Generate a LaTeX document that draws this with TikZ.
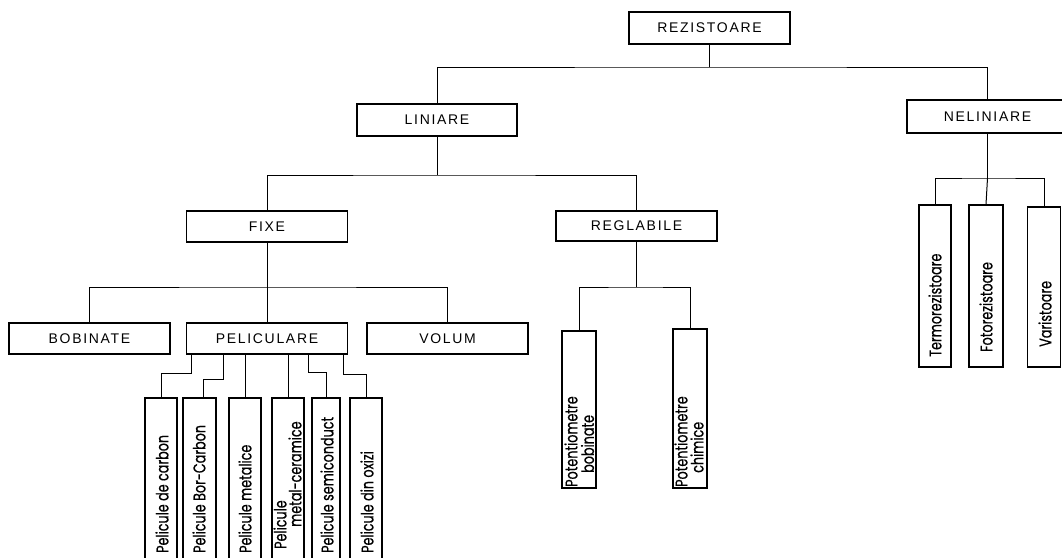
\documentclass[tikz,border=0pt]{standalone}
\usepackage{fontspec}
\setmainfont{Liberation Sans}
\newfontfamily\capsf[LetterSpace=12]{Liberation Sans}
\newfontfamily\rotf[FakeStretch=0.75,FakeBold=0.6]{Poppins}
\begin{document}
\begin{tikzpicture}[x=1pt,y=-1pt,
  box/.style={draw, line width=1.5pt, inner sep=0pt, minimum width=161pt, minimum height=31pt,
              font=\capsf\fontsize{14}{16}\selectfont},
  tall/.style={draw, line width=1.5pt, inner sep=0pt},
  lbl/.style={rotate=90, anchor=west, inner sep=0pt, font=\rotf\fontsize{17}{19}\selectfont},
  wire/.style={line width=1pt}]
\clip (0,0) rectangle (1062,557);
\fill[white] (0,0) rectangle (1062,557);
% level 0
\node[box, minimum height=32pt] (rez) at (709.5,28) {REZISTOARE};
% level 1
\node[box, minimum height=32pt, minimum width=160pt] (lin) at (437,120) {LINIARE};
\node[box, minimum height=33pt] (nel) at (987.5,116.5) {NELINIARE};
% level 2
\node[box] (fix) at (267,226.5) {FIXE};
\node[box, minimum height=30pt] (reg) at (636.5,226) {REGLABILE};
% level 3
\node[box] (bob) at (89.5,338.5) {BOBINATE};
\node[box] (pel) at (267,338.5) {PELICULARE};
\node[box] (vol) at (447.5,338.5) {VOLUM};
% potentiometre
\node[tall, minimum width=34pt, minimum height=157pt] (pb) at (579,409.5) {};
\node[tall, minimum width=34pt, minimum height=159pt] (pc) at (690,408.5) {};
\node[lbl] (pbt1) at (571,487) {Potentiometre};
\node[lbl] (pbt2) at (587.5,473) {bobinate};
\node[lbl] (pct1) at (681,487) {Potentiometre};
\node[lbl] (pct2) at (697,473) {chimice};
% neliniare children
\node[tall, minimum width=32pt, minimum height=162pt] (ter) at (935,286) {};
\node[tall, minimum width=34pt, minimum height=162pt] (fot) at (986,286) {};
\node[tall, minimum width=33pt, minimum height=160pt] (var) at (1044,287) {};
\node[lbl] (tert) at (935,357) {Termorezistoare};
\node[lbl] (fott) at (986,352) {Fotorezistoare};
\node[lbl] (vart) at (1045,347) {Varistoare};
% pelicule
\node[tall, minimum width=32pt, minimum height=172pt] (p1) at (161,484) {};
\node[tall, minimum width=33pt, minimum height=172pt] (p2) at (199.5,484) {};
\node[tall, minimum width=32pt, minimum height=172pt] (p3) at (245,484) {};
\node[tall, minimum width=32pt, minimum height=172pt] (p4) at (288,484) {};
\node[tall, minimum width=28pt, minimum height=172pt] (p5) at (326,484) {};
\node[tall, minimum width=32pt, minimum height=172pt] (p6) at (366,484) {};
\node[lbl] (p1t) at (162,553) {Pelicule de carbon};
\node[lbl] (p2t) at (199,553) {Pelicule Bor-Carbon};
\node[lbl] (p3t) at (245,553) {Pelicule metalice};
\node[lbl] (p4ta) at (280,549) {Pelicule};
\node[lbl] (p4tb) at (295,527) {metal-ceramice};
\node[lbl] (p5t) at (327,553) {Pelicule semiconduct};
\node[lbl] (p6t) at (367,553) {Pelicule din oxizi};
% connectors
\coordinate (j0) at (709,67);
\draw[wire] (rez.south -| j0) -- (j0);
\draw[wire] (lin.north) |- (j0) -| (nel.north);
\coordinate (j1) at (437,175);
\draw[wire] (lin.south) -- (j1);
\draw[wire] (fix.north) |- (j1) -| (reg.north);
\coordinate (j2) at (267,287);
\draw[wire] (fix.south) -- (j2);
\draw[wire] (bob.north) |- (j2) -| (vol.north);
\draw[wire] (j2) -- (pel.north);
\coordinate (j3) at (636.5,287);
\draw[wire] (reg.south) -- (j3);
\draw[wire] (pb.north) |- (j3) -| (pc.north);
\coordinate (j4) at (987.5,178);
\draw[wire] (nel.south) -- (j4);
\draw[wire] (ter.north) |- (j4) -| (var.north);
\draw[wire] (j4) -- (fot.north);
% pelicule connectors
\draw[wire] ([xshift=-76pt]pel.south) -- ++(0,19) -| (p1.north);
\draw[wire] ([xshift=-44pt]pel.south) -- ++(0,25) -| ([xshift=3.5pt]p2.north);
\draw[wire] (p3.north) -- (p3.north |- pel.south);
\draw[wire] (p4.north) -- (p4.north |- pel.south);
\draw[wire] ([xshift=41pt]pel.south) -- ++(0,18) -| (p5.north);
\draw[wire] ([xshift=76pt]pel.south) -- ++(0,20) -| (p6.north);
\end{tikzpicture}
\end{document}
